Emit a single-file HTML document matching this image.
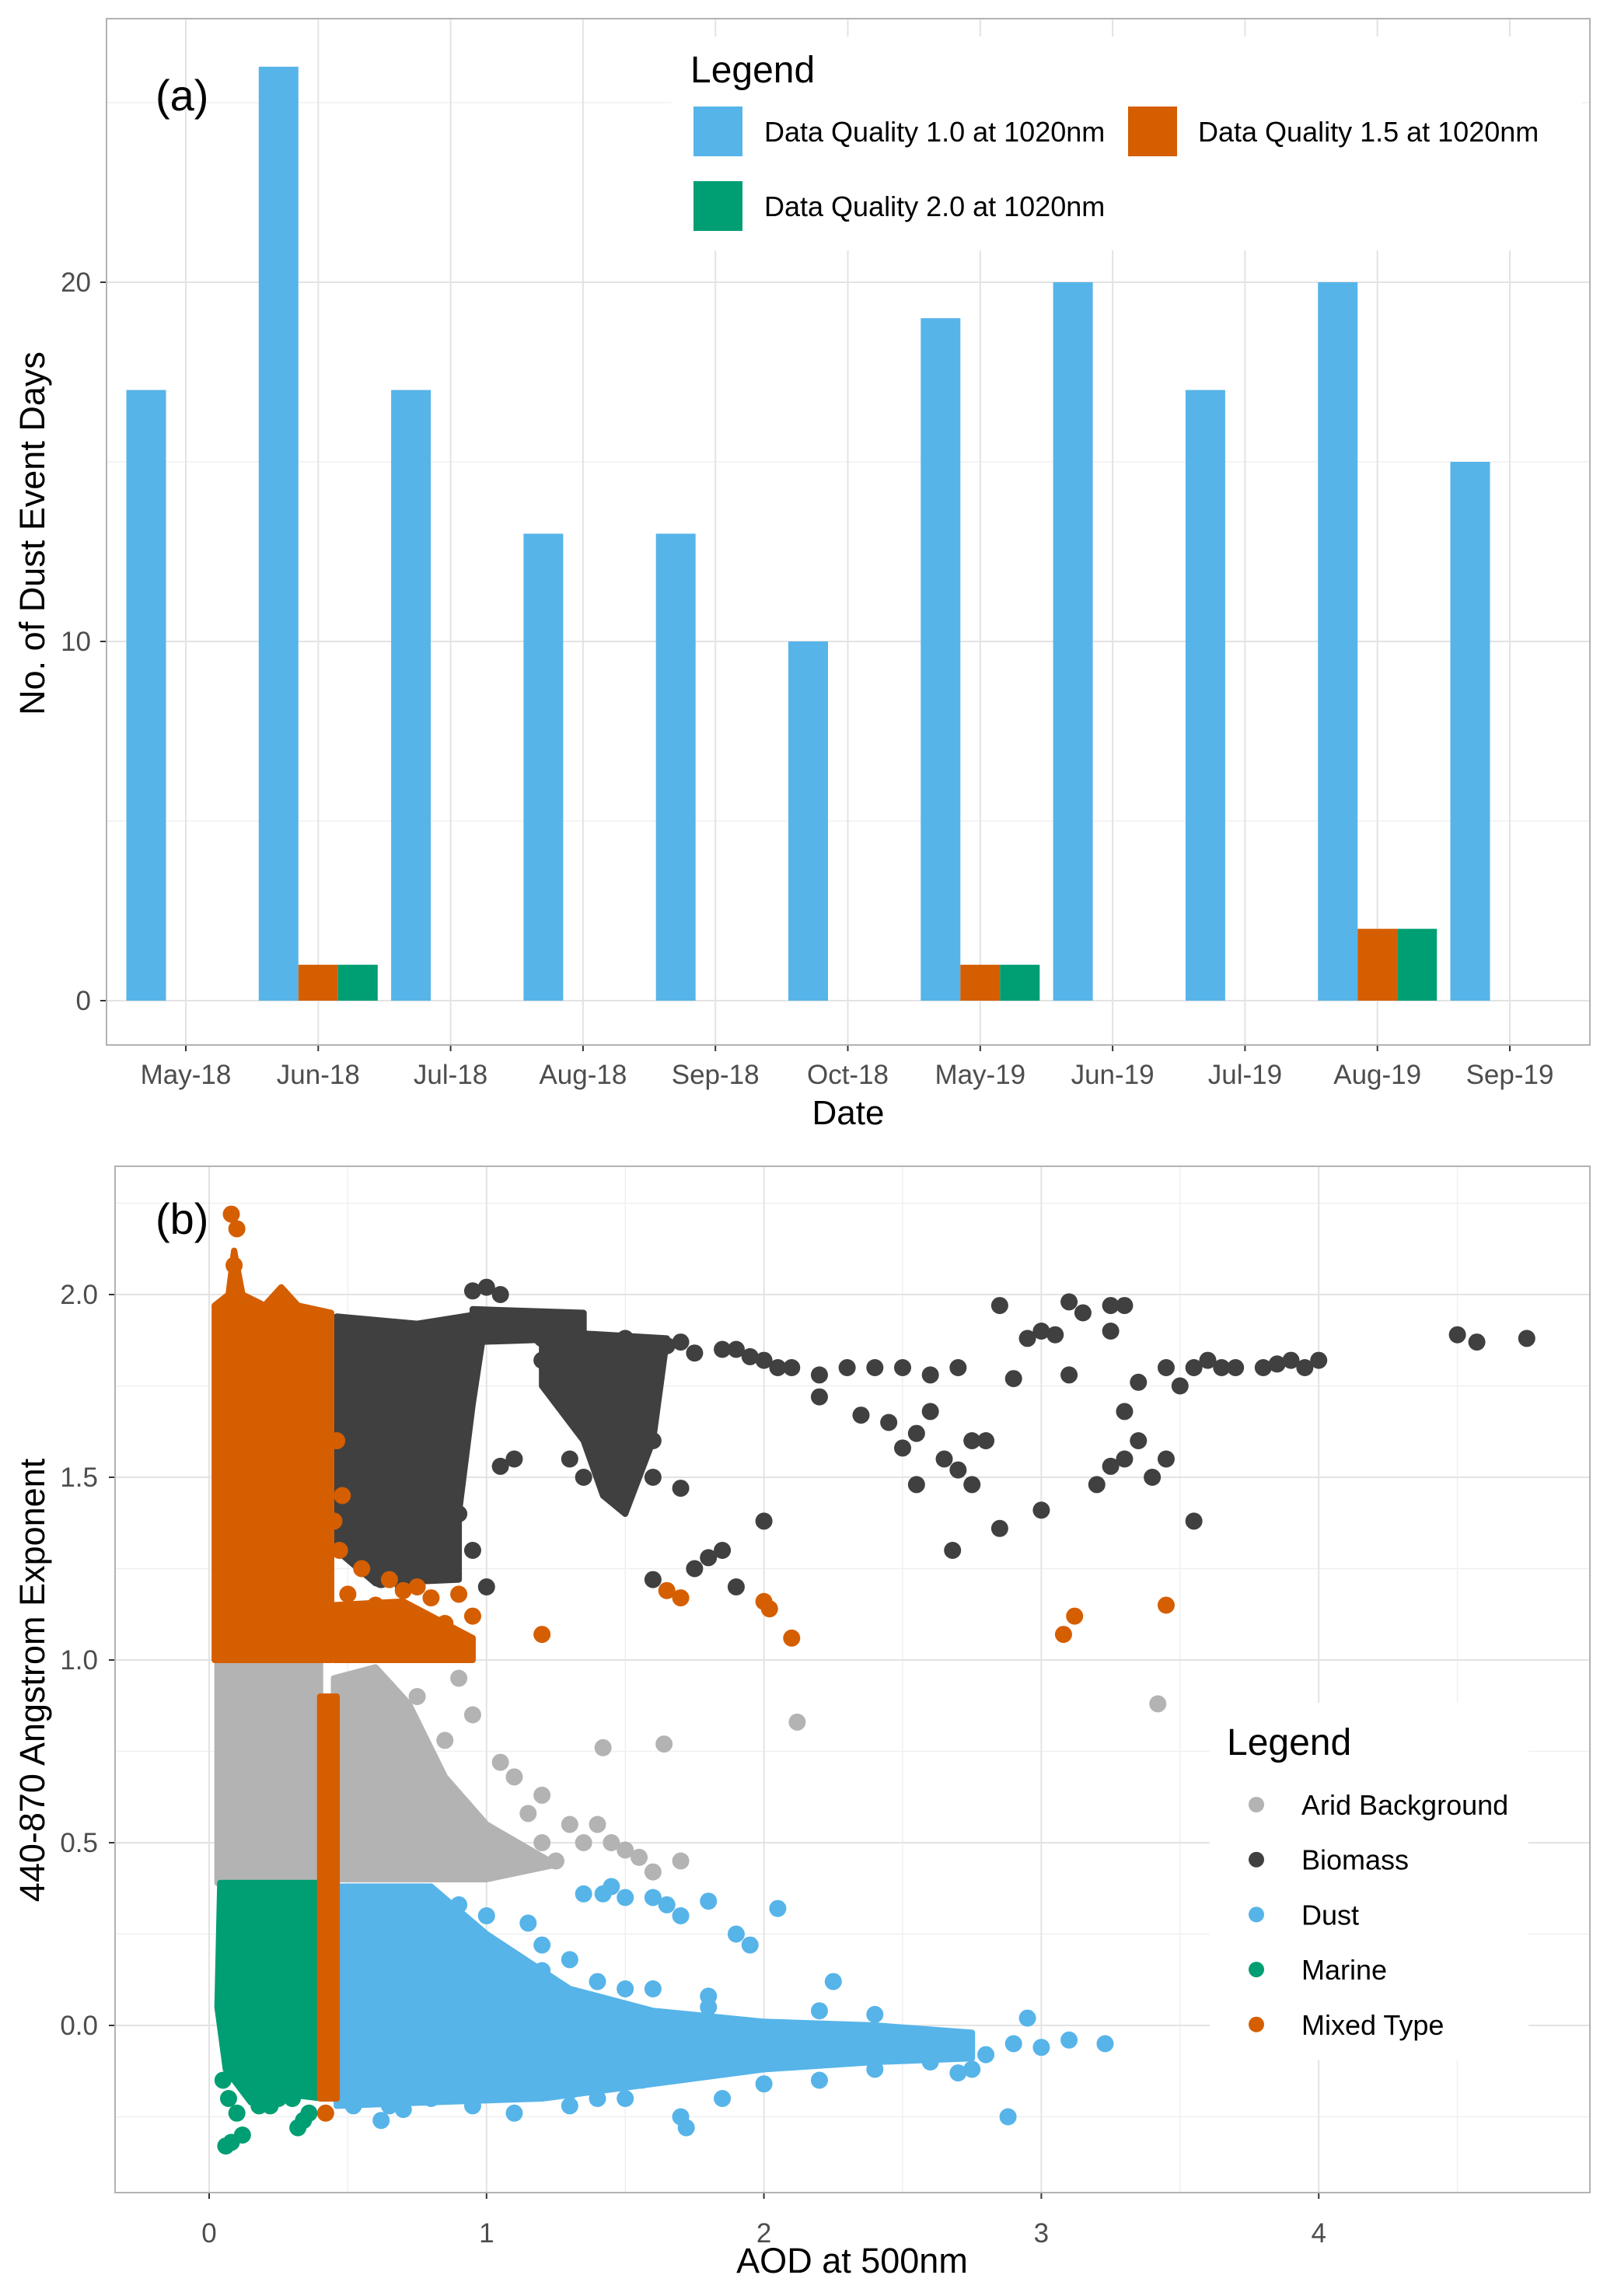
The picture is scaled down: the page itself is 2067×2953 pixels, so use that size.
<!DOCTYPE html>
<html><head><meta charset="utf-8"><style>
html,body{margin:0;padding:0;background:#fff;}
svg text{font-family:"Liberation Sans",sans-serif;}
</style></head><body>
<svg id="fig" width="2067" height="2948" viewBox="0 0 2067 2948" xmlns="http://www.w3.org/2000/svg">
<rect width="2067" height="2948" fill="#fff"/>
<g id="pa"></g>
<g id="pb"></g>
</svg>
<script>
// ---- Panel (a) data ----
const months = ["May-18","Jun-18","Jul-18","Aug-18","Sep-18","Oct-18","May-19","Jun-19","Jul-19","Aug-19","Sep-19"];
const q10 = [17,26,17,13,13,10,19,20,17,20,15];
const q15 = [0,1,0,0,0,0,1,0,0,2,0];
const q20 = [0,1,0,0,0,0,1,0,0,2,0];
const yTicksA = [0,10,20];

// ---- Panel (b) data ----
const xTicksB = [0,1,2,3,4];
const yTicksB = [0.0,0.5,1.0,1.5,2.0];
const yTickLabelsB = ["0.0","0.5","1.0","1.5","2.0"];
// dense regions (data-space outlines)
const aridDense = [[0.03,1.0],[0.4,1.0],[0.4,0.39],[0.03,0.39]];
const aridDense2 = [[0.45,0.4],[0.45,0.95],[0.6,0.98],[0.72,0.88],[0.85,0.68],[1.0,0.55],[1.25,0.44],[1.0,0.4]];
const marineDense = [[0.04,0.39],[0.41,0.39],[0.41,-0.2],[0.3,-0.19],[0.15,-0.21],[0.06,-0.12],[0.03,0.05]];
const dustDense = [[0.46,0.38],[0.8,0.38],[1.0,0.25],[1.3,0.1],[1.6,0.04],[2.0,0.01],[2.4,0.0],[2.75,-0.02],[2.75,-0.09],[2.4,-0.1],[2.0,-0.12],[1.6,-0.16],[1.2,-0.2],[0.8,-0.21],[0.46,-0.22]];
const mixedDense = [[0.02,1.0],[0.02,1.97],[0.07,2.0],[0.09,2.12],[0.12,2.0],[0.2,1.97],[0.26,2.02],[0.32,1.97],[0.44,1.95],[0.44,1.0]];
const mixedStrip = [[0.4,0.9],[0.46,0.9],[0.46,-0.2],[0.4,-0.2]];
const mixedLow = [[0.45,1.0],[0.45,1.15],[0.7,1.16],[0.95,1.06],[0.95,1.0]];
const bioDense = [[0.46,1.3],[0.46,1.94],[0.75,1.92],[1.0,1.95],[0.95,1.7],[0.9,1.4],[0.9,1.22],[0.6,1.21]];
const bioDense2 = [[1.2,1.9],[1.65,1.88],[1.6,1.6],[1.5,1.4],[1.42,1.45],[1.35,1.6],[1.2,1.75]];
const bioRidge = [[0.95,1.96],[1.35,1.95],[1.35,1.88],[0.95,1.87]];
// scattered points
const aridX = [3.42,2.12,1.64,1.42,1.1,1.2,1.3,1.35,1.45,1.5,1.55,1.6,1.25,1.0,0.9,0.8,0.7,0.75,0.9,0.95,0.85,1.05,1.15,1.7,1.4,1.2,0.6,0.65,0.55,0.52];
const aridY = [0.88,0.83,0.77,0.76,0.68,0.63,0.55,0.5,0.5,0.48,0.46,0.42,0.45,0.5,0.6,0.7,0.8,0.9,0.95,0.85,0.78,0.72,0.58,0.45,0.55,0.5,0.75,0.65,0.85,0.6];
const bioX = [1.0,0.95,1.05,1.3,1.5,1.7,1.9,2.0,2.1,2.2,2.3,2.4,2.5,2.6,2.7,2.2,2.35,2.45,2.55,2.6,2.5,2.65,2.75,2.8,2.55,2.75,2.7,2.68,2.85,3.0,2.0,1.9,1.6,1.75,1.8,1.85,1.5,1.6,1.7,1.3,1.05,1.1,2.85,2.95,3.0,3.05,3.1,3.15,3.25,3.3,3.25,3.35,3.45,3.5,3.55,3.6,3.65,3.7,3.8,3.9,4.0,3.85,3.95,3.3,3.2,3.25,3.3,3.35,3.45,3.4,3.55,4.5,4.57,4.75,2.9,3.1,1.15,1.2,1.45,1.55,1.65,1.75,1.85,1.95,2.05,0.62,0.78,0.88,1.0,0.9,0.95,0.7,0.8,1.1,1.2,1.4,1.3,1.55,1.6,1.45,1.35,1.25];
const bioY = [2.02,2.01,2.0,1.92,1.88,1.87,1.85,1.82,1.8,1.78,1.8,1.8,1.8,1.78,1.8,1.72,1.67,1.65,1.62,1.68,1.58,1.55,1.6,1.6,1.48,1.48,1.52,1.3,1.36,1.41,1.38,1.2,1.22,1.25,1.28,1.3,1.45,1.5,1.47,1.55,1.53,1.55,1.97,1.88,1.9,1.89,1.98,1.95,1.97,1.97,1.9,1.76,1.8,1.75,1.8,1.82,1.8,1.8,1.8,1.82,1.82,1.81,1.8,1.68,1.48,1.53,1.55,1.6,1.55,1.5,1.38,1.89,1.87,1.88,1.77,1.78,1.92,1.82,1.83,1.85,1.86,1.84,1.85,1.83,1.8,1.22,1.25,1.28,1.2,1.4,1.3,1.2,1.5,1.9,1.88,1.8,1.75,1.7,1.6,1.55,1.5,1.92];
const dustX = [0.52,0.62,0.8,0.95,1.1,1.3,1.5,1.7,1.85,2.0,2.2,2.4,2.6,2.8,2.9,3.0,3.1,3.23,2.88,2.25,1.95,1.7,1.6,1.45,1.35,1.2,1.0,1.1,1.3,1.5,1.9,2.05,1.8,1.65,1.5,1.42,2.7,2.75,2.5,2.3,2.1,1.72,1.56,0.65,0.7,1.3,1.4,0.9,1.8,2.6,2.95,1.2,1.4,1.6,1.8,2.2,2.4,1.0,1.15];
const dustY = [-0.22,-0.26,-0.2,-0.22,-0.24,-0.22,-0.2,-0.25,-0.2,-0.16,-0.15,-0.12,-0.1,-0.08,-0.05,-0.06,-0.04,-0.05,-0.25,0.12,0.22,0.3,0.35,0.38,0.36,0.22,0.3,0.15,0.18,0.1,0.25,0.32,0.34,0.33,0.35,0.36,-0.13,-0.12,-0.07,-0.05,-0.08,-0.28,-0.15,-0.22,-0.23,-0.18,-0.2,0.33,0.05,-0.03,0.02,0.15,0.12,0.1,0.08,0.04,0.03,0.2,0.28];
const marineX = [0.06,0.08,0.12,0.1,0.18,0.25,0.32,0.34,0.36,0.05,0.07,0.15,0.22,0.3];
const marineY = [-0.33,-0.32,-0.3,-0.24,-0.22,-0.2,-0.28,-0.26,-0.24,-0.15,-0.2,-0.18,-0.22,-0.2];
const mixedX = [1.2,1.65,1.7,2.0,2.02,2.1,3.08,3.12,3.45,0.42,0.08,0.1,0.09,0.5,0.6,0.7,0.8,0.9,0.95,0.55,0.65,0.75,0.85,0.45,0.48,0.47,0.46];
const mixedY = [1.07,1.19,1.17,1.16,1.14,1.06,1.07,1.12,1.15,-0.24,2.22,2.18,2.08,1.18,1.15,1.19,1.17,1.18,1.12,1.25,1.22,1.2,1.1,1.38,1.45,1.3,1.6];
const legendB = ["Arid Background","Biomass","Dust","Marine","Mixed Type"];

const NS="http://www.w3.org/2000/svg";
function mk(parent,tag,attrs,text){const e=document.createElementNS(NS,tag);for(const k in attrs)e.setAttribute(k,attrs[k]);if(text!==undefined)e.textContent=text;parent.appendChild(e);return e;}

// ===== Panel (a) =====
const pa=document.getElementById('pa');
const A={l:137,r:2045,t:24,b:1344};
const ya=v=>1287-v*46.2;
const xa=i=>239+i*170.3;
mk(pa,'rect',{x:A.l,y:A.t,width:A.r-A.l,height:A.b-A.t,fill:'#fff'});
[5,15,25].forEach(v=>mk(pa,'line',{x1:A.l,x2:A.r,y1:ya(v),y2:ya(v),stroke:'#f0f0f0','stroke-width':1.5}));
yTicksA.forEach(v=>mk(pa,'line',{x1:A.l,x2:A.r,y1:ya(v),y2:ya(v),stroke:'#e3e3e3','stroke-width':2}));
months.forEach((m,i)=>mk(pa,'line',{x1:xa(i),x2:xa(i),y1:A.t,y2:A.b,stroke:'#e3e3e3','stroke-width':2}));
const bw=51;
months.forEach((m,i)=>{
  const c=xa(i);
  let r=mk(pa,'rect',{x:c-1.5*bw,y:ya(q10[i]),width:bw,height:ya(0)-ya(q10[i]),fill:'#56B4E9'});
  
  
  if(q15[i]>0){r=mk(pa,'rect',{x:c-0.5*bw,y:ya(q15[i]),width:bw,height:ya(0)-ya(q15[i]),fill:'#D55E00'});
  
  }
  if(q20[i]>0){r=mk(pa,'rect',{x:c+0.5*bw,y:ya(q20[i]),width:bw,height:ya(0)-ya(q20[i]),fill:'#009E73'});
  
  }
  const t=mk(pa,'text',{x:c,y:1394,'font-size':35,fill:'#4d4d4d','text-anchor':'middle'},m);
  
  
  mk(pa,'line',{x1:c,x2:c,y1:A.b,y2:A.b+8,stroke:'#333','stroke-width':2});
});
yTicksA.forEach(v=>{const t=mk(pa,'text',{x:117,y:ya(v)+12,'font-size':35,fill:'#4d4d4d','text-anchor':'end'},v);
  
  
  mk(pa,'line',{x1:A.l-8,x2:A.l,y1:ya(v),y2:ya(v),stroke:'#333','stroke-width':2});});
mk(pa,'rect',{x:A.l,y:A.t,width:A.r-A.l,height:A.b-A.t,fill:'none',stroke:'#b3b3b3','stroke-width':2});
// legend a
const lga=mk(pa,'g',{});


mk(lga,'rect',{x:864,y:47,width:1170,height:275,fill:'#fff'});
mk(lga,'text',{x:888,y:106,'font-size':48,fill:'#000'},'Legend');
mk(lga,'rect',{x:892,y:137,width:63,height:64,fill:'#56B4E9'});
mk(lga,'text',{x:983,y:182,'font-size':36,fill:'#000'},'Data Quality 1.0 at 1020nm');
mk(lga,'rect',{x:1451,y:137,width:63,height:64,fill:'#D55E00'});
mk(lga,'text',{x:1541,y:182,'font-size':36,fill:'#000'},'Data Quality 1.5 at 1020nm');
mk(lga,'rect',{x:892,y:233,width:63,height:64,fill:'#009E73'});
mk(lga,'text',{x:983,y:278,'font-size':36,fill:'#000'},'Data Quality 2.0 at 1020nm');
mk(pa,'text',{x:200,y:142,'font-size':56,fill:'#000'},'(a)');
mk(pa,'text',{x:1091,y:1446,'font-size':44,fill:'#000','text-anchor':'middle'},'Date');
mk(pa,'text',{x:0,y:0,'font-size':45,fill:'#000','text-anchor':'middle',transform:'translate(57,686) rotate(-90)'},'No. of Dust Event Days');

// ===== Panel (b) =====
const pb=document.getElementById('pb');
const B={l:148,r:2045,t:1500,b:2820};
const xb=v=>269+v*356.8;
const yb=v=>2605-v*470;
[0.5,1.5,2.5,3.5,4.5].forEach(v=>mk(pb,'line',{x1:xb(v),x2:xb(v),y1:B.t,y2:B.b,stroke:'#f0f0f0','stroke-width':1.5}));
[-0.25,0.25,0.75,1.25,1.75,2.25].forEach(v=>mk(pb,'line',{x1:B.l,x2:B.r,y1:yb(v),y2:yb(v),stroke:'#f0f0f0','stroke-width':1.5}));
xTicksB.forEach(v=>mk(pb,'line',{x1:xb(v),x2:xb(v),y1:B.t,y2:B.b,stroke:'#e3e3e3','stroke-width':2}));
yTicksB.forEach(v=>mk(pb,'line',{x1:B.l,x2:B.r,y1:yb(v),y2:yb(v),stroke:'#e3e3e3','stroke-width':2}));
function poly(pts,col,name){const p=mk(pb,'polygon',{points:pts.map(q=>xb(q[0])+','+yb(q[1])).join(' '),fill:col,stroke:col,'stroke-width':8,'stroke-linejoin':'round'});
  
  }
function pts(X,Y,col,name){X.forEach((x,i)=>{const c=mk(pb,'circle',{cx:xb(x),cy:yb(Y[i]),r:11,fill:col});
  
  });}
poly(aridDense,'#B3B3B3','arid-dense-region');
poly(aridDense2,'#B3B3B3','arid-dense-region-2');
pts(aridX,aridY,'#B3B3B3','arid-point');
poly(bioDense,'#404040','biomass-dense-region');
poly(bioDense2,'#404040','biomass-dense-region-2');
poly(bioRidge,'#404040','biomass-ridge-region');
pts(bioX,bioY,'#404040','biomass-point');
poly(dustDense,'#56B4E9','dust-dense-region');
pts(dustX,dustY,'#56B4E9','dust-point');
poly(marineDense,'#009E73','marine-dense-region');
pts(marineX,marineY,'#009E73','marine-point');
poly(mixedDense,'#D55E00','mixed-dense-region');
poly(mixedStrip,'#D55E00','mixed-strip-region');
poly(mixedLow,'#D55E00','mixed-low-region');
pts(mixedX,mixedY,'#D55E00','mixed-point');
mk(pb,'rect',{x:0,y:B.b+1,width:2067,height:2948-B.b,fill:'#fff'});
xTicksB.forEach(v=>{const t=mk(pb,'text',{x:xb(v),y:2884,'font-size':35,fill:'#4d4d4d','text-anchor':'middle'},v);
  
  
  mk(pb,'line',{x1:xb(v),x2:xb(v),y1:B.b,y2:B.b+8,stroke:'#333','stroke-width':2});});
yTicksB.forEach((v,i)=>{const t=mk(pb,'text',{x:126,y:yb(v)+12,'font-size':35,fill:'#4d4d4d','text-anchor':'end'},yTickLabelsB[i]);
  
  
  mk(pb,'line',{x1:B.l-8,x2:B.l,y1:yb(v),y2:yb(v),stroke:'#333','stroke-width':2});});
mk(pb,'rect',{x:B.l,y:B.t,width:B.r-B.l,height:B.b-B.t,fill:'none',stroke:'#b3b3b3','stroke-width':2});
// legend b
const lgb=mk(pb,'g',{});


mk(lgb,'rect',{x:1556,y:2190,width:410,height:460,fill:'#fff'});
mk(lgb,'text',{x:1578,y:2257,'font-size':48,fill:'#000'},'Legend');
const lcol=['#B3B3B3','#404040','#56B4E9','#009E73','#D55E00'];
legendB.forEach((n,i)=>{const y=2321+i*70.7;
  mk(lgb,'circle',{cx:1616,cy:y,r:10,fill:lcol[i]});
  const t=mk(lgb,'text',{x:1674,y:y+13,'font-size':36,fill:'#000'},n);
  
  });
mk(pb,'text',{x:200,y:1587,'font-size':56,fill:'#000'},'(b)');
mk(pb,'text',{x:1096,y:2923,'font-size':45,fill:'#000','text-anchor':'middle'},'AOD at 500nm');
mk(pb,'text',{x:0,y:0,'font-size':45,fill:'#000','text-anchor':'middle',transform:'translate(57,2161) rotate(-90)'},'440-870 Angstrom Exponent');
</script>
</body></html>
